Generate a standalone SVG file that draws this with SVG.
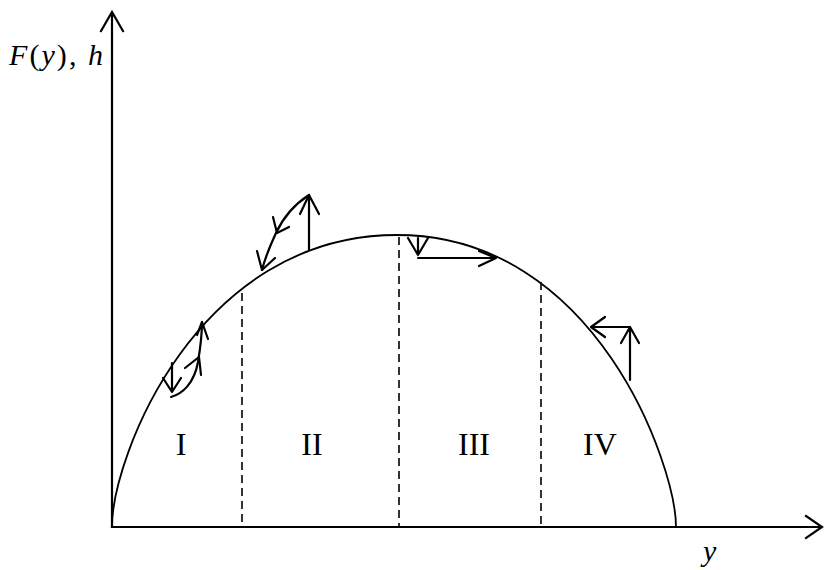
<svg xmlns="http://www.w3.org/2000/svg" width="824" height="570" viewBox="0 0 824 570">
<style>
.ax{fill:none;stroke:#000;stroke-width:2.2;stroke-linecap:square}
.cv{fill:none;stroke:#000;stroke-width:1.8}
.dv{fill:none;stroke:#000;stroke-width:1.6;stroke-dasharray:8 5}
.ar{fill:none;stroke:#000;stroke-width:2.2;stroke-linecap:round;stroke-linejoin:round}
.num{font-family:"Liberation Serif","Times New Roman",serif;font-size:32px;fill:#000;text-anchor:middle}
.math{font-family:"Liberation Serif","Times New Roman",serif;font-size:30px;fill:#000}
.it{font-style:italic}
</style>
<rect width="824" height="570" fill="#fff"/>
<g id="axes">
<path class="ax" d="M112,527 V13 M101,31 L112,12 L123,31"/>
<path class="ax" d="M112,527 H821 M806,516 L822,527 L806,538"/>
</g>
<g id="curve">
<path class="cv" d="M112,527 C112,457 197,235 397,235 C597,235 676,467 676,527"/>
</g>
<g id="dividers">
<path class="dv" d="M242,293 V527"/>
<path class="dv" d="M399,237 V527"/>
<path class="dv" d="M541,282 V527"/>
</g>
<g id="labels">
<text class="math" x="9" y="65" textLength="94" lengthAdjust="spacing"><tspan class="it">F</tspan>(<tspan class="it">y</tspan>), <tspan class="it">h</tspan></text>
<text class="math it" x="703" y="561">y</text>
<text class="num" x="181" y="455">I</text>
<text class="num" x="312" y="455">II</text>
<text class="num" x="474" y="455">III</text>
<text class="num" x="600" y="455">IV</text>
</g>
<g id="arrows-I">
<path class="ar" d="M172,363 V392 M163,378 L172,392 L181,378"/>
<path class="ar" d="M171,397 C182,394 194,384 198,362 C200,350 202,335 202,322"/>
<path class="ar" d="M185,368 L199,357 L201,375"/>
<path class="ar" d="M197,335 L202,322 L208,339"/>
</g>
<g id="arrows-II">
<path class="ar" d="M309,250 V195 M300,214 L309,195 L319,214"/>
<path class="ar" d="M309,195 C295,204 283,218 276,233 C270,246 265,258 262,270"/>
<path class="ar" d="M273,217 L277,233 L289,227"/>
<path class="ar" d="M257,251 L262,270 L275,258"/>
</g>
<g id="arrows-III">
<path class="ar" d="M418,238 V255 M408,238 L418,255 L428,238"/>
<path class="ar" d="M418,258 H496 M479,251 L496,258 L479,266"/>
</g>
<g id="arrows-IV">
<path class="ar" d="M630,380 V327 M621,343 L630,327 L639,343"/>
<path class="ar" d="M630,327 H591 M605,317 L591,327 L605,337"/>
</g>
</svg>
